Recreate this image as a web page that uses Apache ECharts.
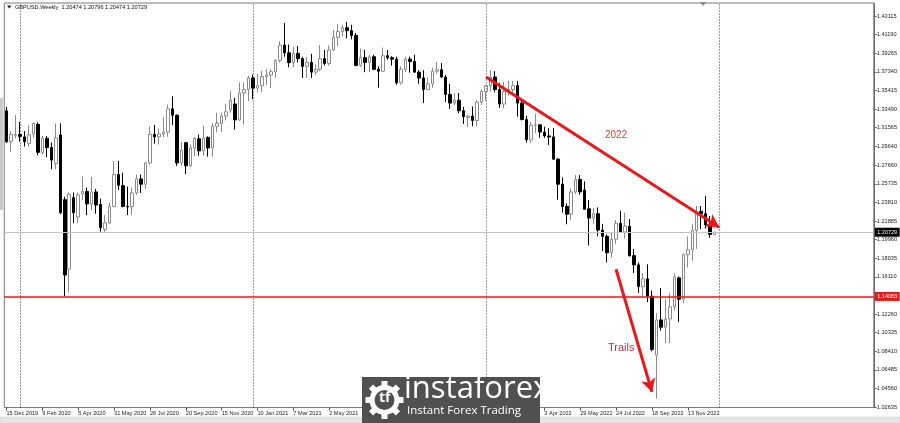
<!DOCTYPE html>
<html><head><meta charset="utf-8">
<script src="https://cdn.jsdelivr.net/npm/echarts@6/dist/echarts.min.js"></script>
<style>html,body{margin:0;padding:0;background:#fff}#c{width:900px;height:423px}</style>
</head><body><div id="c"></div>
<script>
// Weekly bars (MT4 week start dates)
const weeks = ('15 Dec 2019|22 Dec 2019|29 Dec 2019|' +
'5 Jan 2020|12 Jan 2020|19 Jan 2020|26 Jan 2020|2 Feb 2020|9 Feb 2020|16 Feb 2020|23 Feb 2020|1 Mar 2020|8 Mar 2020|15 Mar 2020|22 Mar 2020|29 Mar 2020|' +
'5 Apr 2020|12 Apr 2020|19 Apr 2020|26 Apr 2020|3 May 2020|10 May 2020|17 May 2020|24 May 2020|31 May 2020|7 Jun 2020|14 Jun 2020|21 Jun 2020|28 Jun 2020|' +
'5 Jul 2020|12 Jul 2020|19 Jul 2020|26 Jul 2020|2 Aug 2020|9 Aug 2020|16 Aug 2020|23 Aug 2020|30 Aug 2020|6 Sep 2020|13 Sep 2020|20 Sep 2020|27 Sep 2020|' +
'4 Oct 2020|11 Oct 2020|18 Oct 2020|25 Oct 2020|1 Nov 2020|8 Nov 2020|15 Nov 2020|22 Nov 2020|29 Nov 2020|6 Dec 2020|13 Dec 2020|20 Dec 2020|27 Dec 2020|' +
'3 Jan 2021|10 Jan 2021|17 Jan 2021|24 Jan 2021|31 Jan 2021|7 Feb 2021|14 Feb 2021|21 Feb 2021|28 Feb 2021|7 Mar 2021|14 Mar 2021|21 Mar 2021|28 Mar 2021|' +
'4 Apr 2021|11 Apr 2021|18 Apr 2021|25 Apr 2021|2 May 2021|9 May 2021|16 May 2021|23 May 2021|30 May 2021|6 Jun 2021|13 Jun 2021|20 Jun 2021|27 Jun 2021|' +
'4 Jul 2021|11 Jul 2021|18 Jul 2021|25 Jul 2021|1 Aug 2021|8 Aug 2021|15 Aug 2021|22 Aug 2021|29 Aug 2021|5 Sep 2021|12 Sep 2021|19 Sep 2021|26 Sep 2021|' +
'3 Oct 2021|10 Oct 2021|17 Oct 2021|24 Oct 2021|31 Oct 2021|7 Nov 2021|14 Nov 2021|21 Nov 2021|28 Nov 2021|5 Dec 2021|12 Dec 2021|19 Dec 2021|26 Dec 2021|' +
'2 Jan 2022|9 Jan 2022|16 Jan 2022|23 Jan 2022|30 Jan 2022|6 Feb 2022|13 Feb 2022|20 Feb 2022|27 Feb 2022|6 Mar 2022|13 Mar 2022|20 Mar 2022|27 Mar 2022|' +
'3 Apr 2022|10 Apr 2022|17 Apr 2022|24 Apr 2022|1 May 2022|8 May 2022|15 May 2022|22 May 2022|29 May 2022|5 Jun 2022|12 Jun 2022|19 Jun 2022|26 Jun 2022|' +
'3 Jul 2022|10 Jul 2022|17 Jul 2022|24 Jul 2022|31 Jul 2022|7 Aug 2022|14 Aug 2022|21 Aug 2022|28 Aug 2022|4 Sep 2022|11 Sep 2022|18 Sep 2022|25 Sep 2022|' +
'2 Oct 2022|9 Oct 2022|16 Oct 2022|23 Oct 2022|30 Oct 2022|6 Nov 2022|13 Nov 2022|20 Nov 2022|27 Nov 2022|4 Dec 2022|11 Dec 2022|18 Dec 2022|25 Dec 2022').split('|');

// Empty weeks to the right of the last bar (chart shift area)
const futureWeeks = ('1 Jan 2023|8 Jan 2023|15 Jan 2023|22 Jan 2023|29 Jan 2023|5 Feb 2023|12 Feb 2023|19 Feb 2023|26 Feb 2023|' +
'5 Mar 2023|12 Mar 2023|19 Mar 2023|26 Mar 2023|2 Apr 2023|9 Apr 2023|16 Apr 2023|23 Apr 2023|30 Apr 2023|' +
'7 May 2023|14 May 2023|21 May 2023|28 May 2023|4 Jun 2023|11 Jun 2023|18 Jun 2023|25 Jun 2023|' +
'2 Jul 2023|9 Jul 2023|16 Jul 2023|23 Jul 2023|30 Jul 2023|6 Aug 2023|13 Aug 2023|20 Aug 2023|27 Aug 2023').split('|');

const opens = [1.3330,1.3010,1.3078,
1.3085,1.3060,1.2990,1.3090,1.3190,1.2900,1.3045,1.2950,1.2785,1.3080,1.2410,1.1690,1.2430,
1.2230,1.2470,1.2495,1.2365,1.2490,1.2360,1.2100,1.2170,1.2340,1.2670,1.2555,1.2340,1.2340,
1.2480,1.2625,1.2570,1.2790,1.3085,1.3060,1.3090,1.3110,1.3350,1.3285,1.2790,1.3000,1.2760,
1.2945,1.3040,1.2915,1.3055,1.2945,1.3170,1.3200,1.3275,1.3340,1.3400,1.3235,1.3515,1.3550,
1.3670,1.3565,1.3590,1.3685,1.3700,1.3735,1.3850,1.4010,1.3930,1.3830,1.3925,1.3870,1.3790,
1.3830,1.3730,1.3760,1.3870,1.3820,1.3960,1.4090,1.4150,1.4190,1.4160,1.4110,1.3800,1.3880,
1.3830,1.3890,1.3760,1.3740,1.3900,1.3880,1.3865,1.3620,1.3760,1.3865,1.3840,1.3730,1.3670,
1.3550,1.3610,1.3740,1.3755,1.3680,1.3500,1.3410,1.3440,1.3330,1.3260,1.3275,1.3230,1.3420,
1.3530,1.3590,1.3680,1.3550,1.3400,1.3530,1.3550,1.3590,1.3410,1.3240,1.3030,1.3180,1.3185,
1.3110,1.3070,1.3060,1.2830,1.2570,1.2340,1.2260,1.2490,1.2620,1.2510,1.2315,1.2220,1.2265,
1.2095,1.2030,1.1860,1.2000,1.2165,1.2075,1.2135,1.1830,1.1735,1.1510,1.1590,1.1410,1.0800,
1.1165,1.1090,1.1175,1.1300,1.1600,1.1380,1.1840,1.1890,1.2090,1.2290,1.2265,1.2150,1.20474];

const highs = [1.3370,1.3120,1.3285,
1.3215,1.3120,1.3180,1.3210,1.3210,1.3070,1.3070,1.3000,1.3200,1.3200,1.2440,1.2485,1.2485,
1.2485,1.2650,1.2535,1.2645,1.2520,1.2420,1.2250,1.2380,1.2810,1.2810,1.2690,1.2545,1.2535,
1.2670,1.2670,1.2800,1.3170,1.3185,1.3145,1.3265,1.3395,1.3480,1.3290,1.3005,1.3010,1.2980,
1.3060,1.3085,1.3175,1.3065,1.3200,1.3310,1.3310,1.3400,1.3540,1.3465,1.3625,1.3625,1.3690,
1.3705,1.3710,1.3745,1.3760,1.3760,1.3865,1.4050,1.4240,1.4015,1.3990,1.4000,1.3890,1.3885,
1.3920,1.3810,1.4010,1.3960,1.4005,1.4165,1.4230,1.4220,1.4250,1.4220,1.4135,1.3975,1.3960,
1.3910,1.3910,1.3790,1.3985,1.3960,1.3895,1.3890,1.3790,1.3890,1.3890,1.3910,1.3750,1.3750,
1.3675,1.3775,1.3835,1.3825,1.3700,1.3610,1.3515,1.3515,1.3370,1.3290,1.3375,1.3440,1.3550,
1.3600,1.3750,1.3740,1.3620,1.3630,1.3640,1.3640,1.3640,1.3440,1.3280,1.3215,1.3300,1.3190,
1.3165,1.3150,1.3150,1.2840,1.2640,1.2370,1.2525,1.2665,1.2665,1.2600,1.2405,1.2325,1.2330,
1.2160,1.2050,1.2065,1.2200,1.2295,1.2275,1.2210,1.1900,1.1760,1.1650,1.1740,1.1470,1.1235,
1.1495,1.1380,1.1440,1.1645,1.1615,1.1855,1.2030,1.2155,1.2345,1.2345,1.2446,1.2240,1.20796];

const lows = [1.2999,1.2905,1.3045,
1.3010,1.2960,1.2960,1.3050,1.2870,1.2875,1.2850,1.2725,1.2725,1.2260,1.1410,1.1450,1.2165,
1.2165,1.2405,1.2250,1.2300,1.2265,1.2080,1.2075,1.2160,1.2330,1.2510,1.2330,1.2250,1.2255,
1.2460,1.2480,1.2520,1.2770,1.2990,1.2980,1.3055,1.3060,1.3180,1.2760,1.2760,1.2675,1.2745,
1.2860,1.2865,1.2865,1.2855,1.2855,1.3105,1.3110,1.3230,1.3310,1.3135,1.3225,1.3190,1.3430,
1.3450,1.3520,1.3520,1.3600,1.3565,1.3670,1.3830,1.3890,1.3780,1.3780,1.3830,1.3670,1.3670,
1.3670,1.3700,1.3740,1.3800,1.3800,1.3950,1.4000,1.4100,1.4080,1.4070,1.3790,1.3785,1.3730,
1.3730,1.3750,1.3570,1.3730,1.3860,1.3800,1.3600,1.3600,1.3730,1.3725,1.3730,1.3610,1.3410,
1.3545,1.3570,1.3715,1.3670,1.3420,1.3350,1.3390,1.3305,1.3195,1.3160,1.3170,1.3170,1.3390,
1.3430,1.3530,1.3520,1.3360,1.3360,1.3490,1.3490,1.3270,1.3230,1.3000,1.2995,1.3100,1.3050,
1.3050,1.2975,1.2820,1.2410,1.2275,1.2155,1.2200,1.2470,1.2460,1.2310,1.1935,1.2160,1.2030,
1.1875,1.1760,1.1810,1.1950,1.2065,1.2005,1.1820,1.1650,1.1445,1.1405,1.1350,1.0840,1.0350,
1.1055,1.0925,1.0925,1.1260,1.1145,1.1335,1.1710,1.1780,1.1900,1.2105,1.2110,1.2015,1.20474];

const closes = [1.3010,1.3085,1.3085,
1.3065,1.3010,1.3080,1.3200,1.2900,1.3045,1.2950,1.2820,1.3050,1.2275,1.1630,1.2465,1.2275,
1.2460,1.2495,1.2365,1.2490,1.2355,1.2120,1.2170,1.2340,1.2670,1.2560,1.2340,1.2335,1.2480,
1.2625,1.2570,1.2790,1.3085,1.3060,1.3090,1.3110,1.3350,1.3285,1.2790,1.2920,1.2760,1.2945,
1.3045,1.2915,1.3045,1.2945,1.3170,1.3200,1.3275,1.3320,1.3440,1.3235,1.3515,1.3550,1.3670,
1.3565,1.3590,1.3685,1.3700,1.3735,1.3850,1.4010,1.3930,1.3830,1.3925,1.3870,1.3790,1.3830,
1.3730,1.3760,1.3870,1.3820,1.3960,1.4090,1.4150,1.4190,1.4160,1.4110,1.3800,1.3880,1.3830,
1.3890,1.3760,1.3740,1.3900,1.3880,1.3865,1.3620,1.3760,1.3865,1.3840,1.3730,1.3670,1.3550,
1.3610,1.3740,1.3755,1.3680,1.3500,1.3410,1.3440,1.3330,1.3270,1.3275,1.3230,1.3420,1.3530,
1.3590,1.3680,1.3550,1.3400,1.3530,1.3550,1.3590,1.3410,1.3240,1.3030,1.3180,1.3185,1.3110,
1.3070,1.3060,1.2830,1.2570,1.2340,1.2260,1.2490,1.2620,1.2490,1.2310,1.2220,1.2265,1.2095,
1.2030,1.1860,1.2000,1.2165,1.2075,1.2135,1.1830,1.1735,1.1510,1.1590,1.1410,1.0860,1.1165,
1.1090,1.1175,1.1300,1.1610,1.1380,1.1840,1.1890,1.2090,1.2280,1.2265,1.2150,1.2050,1.20729];

const priceTicks = [1.43115,1.41190,1.39265,1.37340,1.35415,1.33490,1.31565,1.29640,1.27660,1.25735,
1.23810,1.21885,1.19960,1.18035,1.16110,1.14185,1.12260,1.10335,1.08410,1.06485,1.04560,1.02635];

const supportLevel = 1.14083;
const lastPrice = 1.20729;
const yearStarts = ['5 Jan 2020','3 Jan 2021','2 Jan 2022','1 Jan 2023'];
const trend2022 = [['2 Jan 2022', 1.3680], ['1 Jan 2023', 1.2125]];
const trailsArrow = [['24 Jul 2022', 1.1690], ['18 Sep 2022', 1.0420]];
const titleText = 'GBPUSD,Weekly  1.20474 1.20796 1.20474 1.20729';

const ohlc = weeks.map((w, i) => [opens[i], closes[i], lows[i], highs[i]]);
const RED = '#e41a1c';
const SMALL = '"Liberation Sans", Arial, sans-serif';

const chart = echarts.init(document.getElementById('c'), null, {renderer: 'canvas'});

const markData = [];
yearStarts.forEach(d => markData.push({
  xAxis: d, symbol: 'none', label: {show: false},
  lineStyle: {type: [1, 2], color: '#3a3a3a', width: 1}
}));
markData.push({
  yAxis: lastPrice, symbol: 'none',
  lineStyle: {type: 'solid', color: '#c4c4c4', width: 1},
  label: {show: true, position: 'end', distance: 1, formatter: '1.20729',
    backgroundColor: '#000', color: '#fff', fontSize: 5.5, fontFamily: SMALL, padding: [1.5, 2.5]}
});
markData.push({
  yAxis: supportLevel, symbol: 'none',
  lineStyle: {type: 'solid', color: RED, width: 1.5},
  label: {show: true, position: 'end', distance: 1, formatter: '1.14083',
    backgroundColor: RED, color: '#fff', fontSize: 5.5, fontFamily: SMALL, padding: [1.5, 2.5]}
});
[trend2022, trailsArrow].forEach(a => markData.push([
  {coord: a[0], symbol: 'none', lineStyle: {color: RED, width: 3, type: 'solid'}, label: {show: false}},
  {coord: a[1], symbol: 'arrow', symbolSize: [11, 13]}
]));

const teeth = [];
for (let k = 0; k < 8; k++) {
  teeth.push({type: 'rect', shape: {x: 381.5, y: 381, width: 6, height: 6},
    originX: 384.5, originY: 400, rotation: k * Math.PI / 4, style: {fill: '#fff'}, z: 100});
}

chart.setOption({
  animation: false,
  backgroundColor: '#ffffff',
  grid: {left: 4.25, right: 22.75, top: 3, bottom: 15.5, show: true, borderColor: '#7a7a7a', borderWidth: 1, backgroundColor: '#fff'},
  xAxis: {
    type: 'category', data: weeks.concat(futureWeeks), boundaryGap: true,
    axisLine: {show: false},
    axisTick: {show: true, alignWithLabel: true, length: 3,
      interval: (i) => i % 8 === 0 && i < weeks.length, lineStyle: {color: '#555'}},
    axisLabel: {interval: 7, fontSize: 5.6, fontFamily: SMALL, color: '#222', align: 'left', margin: 3,
      formatter: (v, i) => (i < weeks.length ? v : '')},
    splitLine: {show: false}
  },
  yAxis: {
    type: 'value', position: 'right', min: 1.02583, max: 1.44461,
    axisLine: {show: true, lineStyle: {color: '#6a6a6a'}},
    axisTick: {show: true, customValues: priceTicks, length: 3, lineStyle: {color: '#6a6a6a'}},
    axisLabel: {customValues: priceTicks, formatter: v => v.toFixed(5), fontSize: 5.6, fontFamily: SMALL, color: '#222', margin: 3},
    splitLine: {show: false}
  },
  series: [{
    type: 'candlestick', data: ohlc, barWidth: 3,
    itemStyle: {color: '#ffffff', color0: '#000000', borderColor: '#8a8a8a', borderColor0: '#000000', borderWidth: 1},
    markLine: {silent: true, animation: false, symbol: 'none', precision: 5, data: markData}
  }],
  graphic: [
    {type: 'polygon', shape: {points: [[7, 5.5], [11.5, 5.5], [9.25, 8.5]]}, style: {fill: '#222'}},
    {type: 'text', x: 15, y: 4.5, style: {text: titleText, font: '5.6px ' + SMALL, fill: '#111'}},
    {type: 'polygon', shape: {points: [[700, 2], [706, 2], [703, 6]]}, style: {fill: '#8a8a8a'}},
    {type: 'rect', shape: {x: 0, y: 98, width: 3, height: 112}, style: {fill: '#c9c9c9'}},
    {type: 'text', x: 605, y: 130, style: {text: '2022', font: '10px ' + SMALL, fill: '#e2403f'}},
    {type: 'text', x: 608, y: 342, style: {text: 'Trails', font: '11px ' + SMALL, fill: '#b3304c'}},
    {type: 'rect', shape: {x: 0, y: 417, width: 900, height: 6}, style: {fill: '#e6e6e6', stroke: '#c8c8c8', lineWidth: 0.5}},
    {type: 'rect', shape: {x: 362, y: 377, width: 178, height: 46}, style: {fill: '#505050'}, z: 100},
    {type: 'ring', shape: {cx: 384.5, cy: 400, r: 15, r0: 10}, style: {fill: '#fff'}, z: 100},
    ...teeth,
    {type: 'text', x: 379, y: 391, style: {text: 'tf', font: 'bold 14px "Open Sans", sans-serif', fill: '#fff'}, z: 100},
    {type: 'text', x: 404, y: 374, style: {text: 'instaforex', font: '31px "Open Sans", sans-serif', fill: '#fff'}, z: 100},
    {type: 'text', x: 407, y: 405, style: {text: 'Instant Forex Trading', font: '11.5px "Open Sans", sans-serif', fill: '#fff'}, z: 100}
  ]
});
</script>
</body></html>
